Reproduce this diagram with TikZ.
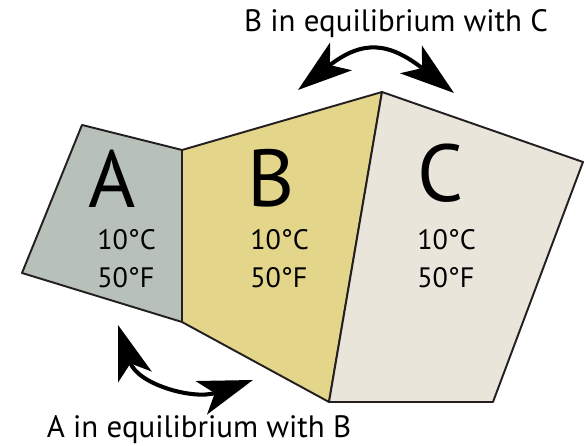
\documentclass[tikz,border=0pt]{standalone}
\usepackage{fontspec}
\setmainfont{PT Sans}
\usetikzlibrary{arrows.meta}
\definecolor{zoneA}{HTML}{B7C1BA}
\definecolor{zoneB}{HTML}{E3D589}
\definecolor{zoneC}{HTML}{E9E5DA}
\definecolor{edge}{HTML}{231F20}
\begin{document}
\begin{tikzpicture}[x=0.02cm, y=0.02cm,
  wall/.style={draw=edge, line width=1.1pt, line join=round},
  letter/.style={font=\fontsize{46}{46}\selectfont, inner sep=0pt},
  temp/.style={font=\fontsize{16}{21.5}\selectfont, align=left, anchor=west, inner sep=0pt},
  caption/.style={font=\fontsize{17.6}{17.6}\selectfont, anchor=base, inner sep=0pt},
  eqarrow/.style={line width=2.3pt, {Stealth[length=31pt, width=20pt, inset=8pt]}-{Stealth[length=31pt, width=20pt, inset=8pt]}}]
  \useasboundingbox (0,0) rectangle (586,446);
  % corners of the three blocks
  \coordinate (a1) at (82,321);
  \coordinate (a4) at (22,173);
  \coordinate (ab1) at (182,296);
  \coordinate (ab2) at (182,124);
  \coordinate (bc1) at (382,354);
  \coordinate (bc2) at (329,44);
  \coordinate (c2) at (583,284);
  \coordinate (c3) at (493,44);
  \filldraw[wall, fill=zoneA] (a1) -- (ab1) -- (ab2) -- (a4) -- cycle;
  \filldraw[wall, fill=zoneB] (ab1) -- (bc1) -- (bc2) -- (ab2) -- cycle;
  \filldraw[wall, fill=zoneC] (bc1) -- (c2) -- (c3) -- (bc2) -- cycle;
  % labels
  \node[letter] (labA) at (112,267) {A};
  \node[letter] (labB) at (271,268) {B};
  \node[letter] (labC) at (441,273) {C};
  \node[temp] (tempA) at (97,187) {10°C\\50°F};
  \node[temp] (tempB) at (250,187) {10°C\\50°F};
  \node[temp] (tempC) at (417,187) {10°C\\50°F};
  \node[caption] (capBC) at (396,414) {B in equilibrium with C};
  \node[caption] (capAB) at (199,8) {A in equilibrium with B};
  % exchange arrows
  \coordinate (bcL) at (298,356);
  \coordinate (bcR) at (454,353);
  \coordinate (abT) at (118,121);
  \coordinate (abR) at (253,66);
  \draw[eqarrow] (bcL) to[out=38, in=142, looseness=1.35] (bcR);
  \draw[eqarrow] (abT) to[out=-72, in=199, looseness=1.1] (abR);
\end{tikzpicture}
\end{document}
